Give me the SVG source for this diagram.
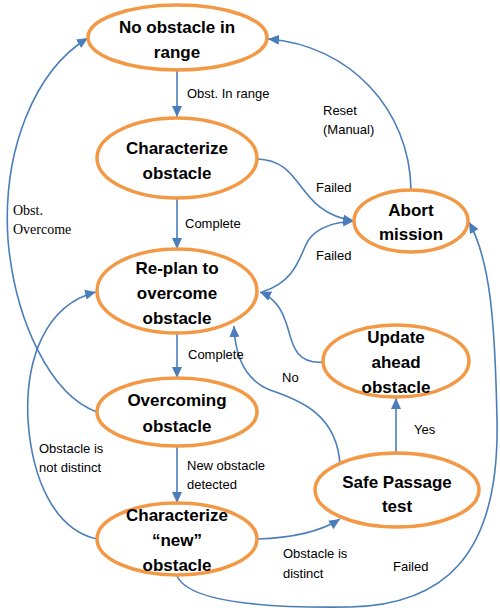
<svg xmlns="http://www.w3.org/2000/svg" width="500" height="614" viewBox="0 0 500 614">
<style>
.node ellipse{fill:#fff;stroke:#F39845;stroke-width:3.5}
.node text{font-family:"Liberation Sans",Arial,sans-serif;font-weight:bold;font-size:17px;fill:#000;text-anchor:middle}
.edges path{fill:none;stroke:#4A7EBB;stroke-width:1.6}
.lbl{font-family:"Liberation Sans",Arial,sans-serif;font-size:13px;fill:#000}
.lbls{font-family:"Liberation Serif","Times New Roman",serif;font-size:14px;fill:#000}
</style>
<defs>
<marker id="ah" markerUnits="userSpaceOnUse" markerWidth="12" markerHeight="10" refX="11" refY="5" orient="auto">
<path d="M0,0 L11,5 L0,10 z" fill="#4A7EBB"/>
</marker>
</defs>
<rect width="500" height="614" fill="#fff"/>
<g class="edges">
<path d="M177,71 L177,117" marker-end="url(#ah)"/>
<path d="M177,198 L177,249" marker-end="url(#ah)"/>
<path d="M177,334 L177,378" marker-end="url(#ah)"/>
<path d="M177,447 L177,503" marker-end="url(#ah)"/>
<path d="M257,159 C305,160 295,212 354,221" marker-end="url(#ah)"/>
<path d="M262,292 C300,280 300,250 310,238 C320,226 335,222 354,221" marker-end="url(#ah)"/>
<path d="M324,362 C290,365 292,335 285,320 C280,305 272,297 260,292" marker-end="url(#ah)"/>
<path d="M411,190 C410,110 350,45 268,39" marker-end="url(#ah)"/>
<path d="M340,466 C338,415 300,400 270,390 C245,380 235,355 234,326" marker-end="url(#ah)"/>
<path d="M396,454 L396,398" marker-end="url(#ah)"/>
<path d="M257,539 C290,538 320,532 340,519" marker-end="url(#ah)"/>
<path d="M177,576 C190,605 280,608 350,607 C440,605 500,560 497,420 C495,320 490,260 469,222" marker-end="url(#ah)"/>
<path d="M97,412 C50,395 15,320 8,240 C2,150 35,70 88,38" marker-end="url(#ah)"/>
<path d="M97,539 C55,530 32,480 28,420 C25,360 45,305 96,292" marker-end="url(#ah)"/>
</g>
<g id="n1" class="node"><ellipse cx="177.5" cy="37.5" rx="89.5" ry="32.5"/><text x="177" y="33">No obstacle in</text><text x="177" y="58">range</text></g>
<g id="n2" class="node"><ellipse cx="177" cy="158" rx="80" ry="40"/><text x="177" y="154">Characterize</text><text x="177" y="179">obstacle</text></g>
<g id="n3" class="node"><ellipse cx="177" cy="291" rx="80" ry="42"/><text x="177" y="274">Re-plan to</text><text x="177" y="299">overcome</text><text x="177" y="324">obstacle</text></g>
<g id="n4" class="node"><ellipse cx="177" cy="412" rx="80" ry="34"/><text x="177" y="406">Overcoming</text><text x="177" y="432">obstacle</text></g>
<g id="n5" class="node"><ellipse cx="177" cy="539" rx="80" ry="36"/><text x="177" y="521">Characterize</text><text x="177" y="546">“new”</text><text x="177" y="571">obstacle</text></g>
<g id="n6" class="node"><ellipse cx="411" cy="221" rx="57" ry="31"/><text x="411" y="216">Abort</text><text x="411" y="240">mission</text></g>
<g id="n7" class="node"><ellipse cx="396" cy="361" rx="73" ry="36"/><text x="396" y="343">Update</text><text x="396" y="368">ahead</text><text x="396" y="393">obstacle</text></g>
<g id="n8" class="node"><ellipse cx="397" cy="490" rx="82" ry="37"/><text x="397" y="488">Safe Passage</text><text x="397" y="512">test</text></g>
<g id="labels">
<text class="lbl" x="187" y="98">Obst. In range</text>
<text class="lbl" x="323" y="115">Reset</text>
<text class="lbl" x="323" y="134">(Manual)</text>
<text class="lbl" x="316" y="192">Failed</text>
<text class="lbls" x="13" y="215">Obst.</text>
<text class="lbls" x="13" y="234">Overcome</text>
<text class="lbl" x="185" y="228">Complete</text>
<text class="lbl" x="316" y="260">Failed</text>
<text class="lbl" x="188" y="359">Complete</text>
<text class="lbl" x="282" y="382">No</text>
<text class="lbl" x="414" y="434">Yes</text>
<text class="lbl" x="39" y="453">Obstacle is</text>
<text class="lbl" x="39" y="472">not distinct</text>
<text class="lbl" x="187" y="470">New obstacle</text>
<text class="lbl" x="187" y="489">detected</text>
<text class="lbl" x="283" y="558">Obstacle is</text>
<text class="lbl" x="283" y="578">distinct</text>
<text class="lbl" x="393" y="571">Failed</text>
</g>
</svg>
